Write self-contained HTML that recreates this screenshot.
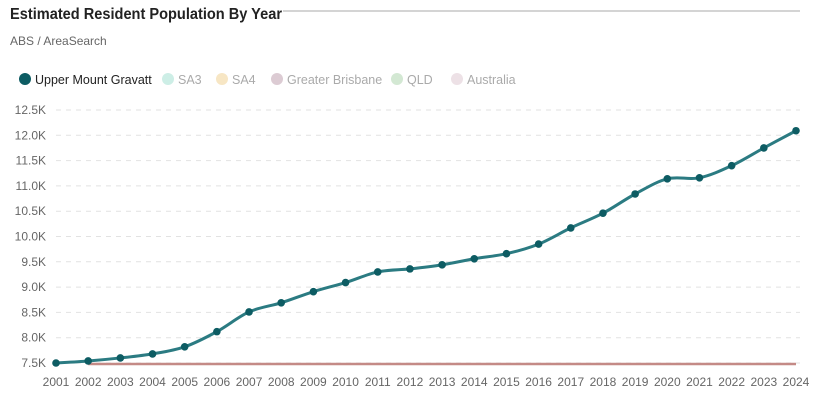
<!DOCTYPE html>
<html><head><meta charset="utf-8"><style>
body{margin:0;background:#fff;font-family:"Liberation Sans",sans-serif;}
svg{display:block}
</style></head><body>
<svg id="c" width="822" height="400">
<line x1="283" y1="11" x2="800" y2="11" stroke="#d4d4d4" stroke-width="2"/>
<text x="10" y="19" font-size="16" font-weight="bold" fill="#222" textLength="272" lengthAdjust="spacingAndGlyphs">Estimated Resident Population By Year</text>
<text x="10" y="45" font-size="12" fill="#666">ABS / AreaSearch</text>
<g id="legend" font-size="12.5"></g>
<g id="grid"></g>
<g id="plot"></g>
</svg>
<script>
const years=[2001,2002,2003,2004,2005,2006,2007,2008,2009,2010,2011,2012,2013,2014,2015,2016,2017,2018,2019,2020,2021,2022,2023,2024];
const umg=[7500,7540,7600,7680,7820,8120,8510,8690,8910,9090,9300,9360,9440,9560,9660,9850,10170,10460,10840,11140,11160,11400,11750,12090];
const baseline=[null,7480,7480,7480,7480,7480,7480,7480,7480,7480,7480,7480,7480,7480,7480,7480,7480,7480,7480,7480,7480,7480,7480,7480];
const yTicks=[7500,8000,8500,9000,9500,10000,10500,11000,11500,12000,12500];
const yLabels=["7.5K","8.0K","8.5K","9.0K","9.5K","10.0K","10.5K","11.0K","11.5K","12.0K","12.5K"];
const legendNames=["Upper Mount Gravatt","SA3","SA4","Greater Brisbane","QLD","Australia"];
const legendColors=["#0d5c63","#cdeee6","#f7e6c4","#dccbd3","#d3e8d3","#ede1e6"];
const NS="http://www.w3.org/2000/svg";
const X=y=>56+(y-2001)*(796-56)/23;
const Y=v=>363-(v-7500)*(363-110)/5000;
function mk(t,a,p){const e=document.createElementNS(NS,t);for(const k in a)e.setAttribute(k,a[k]);p.appendChild(e);return e;}
const grid=document.getElementById('grid'),plot=document.getElementById('plot'),leg=document.getElementById('legend');
const lxs=[20,163,217,272,392,452];
legendNames.forEach((n,i)=>{
 const lx=lxs[i];
 const g=mk('g',{},leg);
 
 
 mk('circle',{cx:lx+5,cy:79,r:6,fill:legendColors[i]},g);
 const t=mk('text',{x:lx+15,y:84,fill:i==0?'#222':'#aaa'},g);t.textContent=n;
});
yTicks.forEach((v,i)=>{
 const l=mk('line',{x1:56,x2:800,y1:Y(v),y2:Y(v),stroke:'#e2e2e2','stroke-dasharray':'5,5'},grid);
 
 
 const t=mk('text',{x:46,y:Y(v)+4,'text-anchor':'end','font-size':12,fill:'#666'},grid);
 
 
 t.textContent=yLabels[i];
});
years.forEach(y=>{
 const t=mk('text',{x:X(y),y:386,'text-anchor':'middle','font-size':12,fill:'#666'},grid);
 
 
 t.textContent=y;
});
const bp=[];years.forEach((y,i)=>{if(baseline[i]!=null)bp.push([X(y),Math.min(Y(baseline[i]),364)]);});
const bl=mk('path',{d:'M'+bp.map(p=>p.join(',')).join('L'),stroke:'#c48a86','stroke-width':2.5,fill:'none'},plot);


const pts=years.map((y,i)=>[X(y),Y(umg[i])]);
let d='M'+pts[0].join(',');
for(let i=0;i<pts.length-1;i++){
 const p0=pts[Math.max(i-1,0)],p1=pts[i],p2=pts[i+1],p3=pts[Math.min(i+2,pts.length-1)];
 const c1=[p1[0]+(p2[0]-p0[0])/6,p1[1]+(p2[1]-p0[1])/6],c2=[p2[0]-(p3[0]-p1[0])/6,p2[1]-(p3[1]-p1[1])/6];
 d+='C'+c1.join(',')+' '+c2.join(',')+' '+p2.join(',');
}
const ln=mk('path',{d:d,stroke:'#2b7b82','stroke-width':3,fill:'none'},plot);


pts.forEach(p=>{
 const c=mk('circle',{cx:p[0],cy:p[1],r:3.8,fill:'#0d5c63'},plot);
 
 
});
</script>
</body></html>
